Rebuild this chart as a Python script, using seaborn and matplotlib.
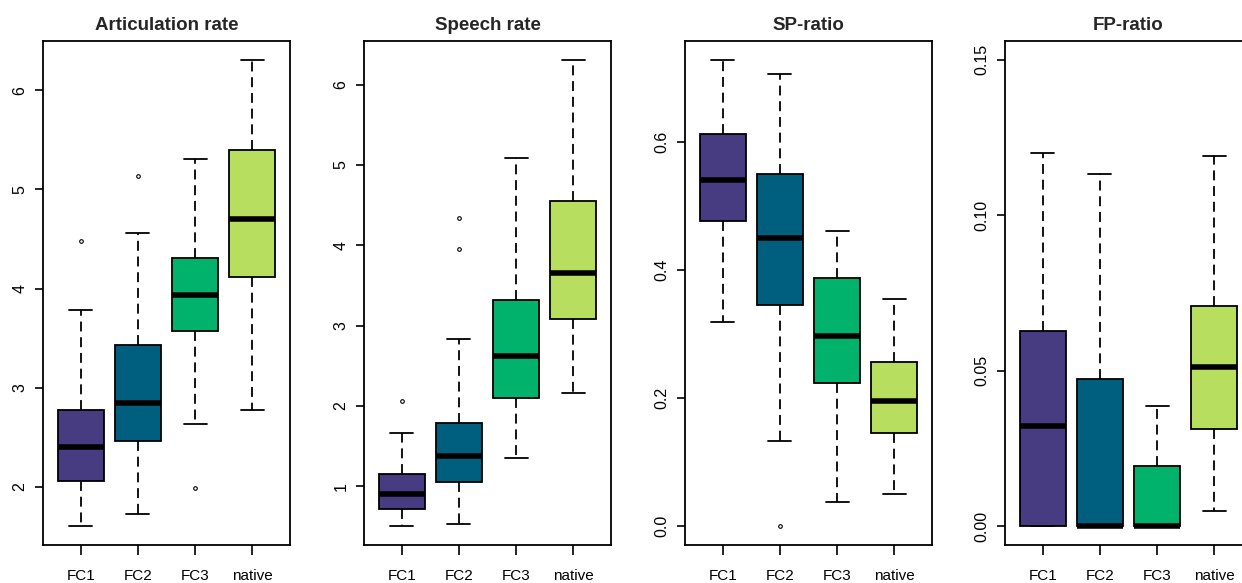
import pandas as pd
import matplotlib
matplotlib.use('Agg')
import matplotlib.pyplot as plt
import seaborn as sns

# -------------------------------
# data
# -------------------------------
groups = ['FC1', 'FC2', 'FC3', 'native']
colors = ['#473B82', '#005F7F', '#00B26C', '#B8DE5F']

# articulation rate: whisker low, Q1, median, Q3, whisker high
art_low = [1.60, 1.72, 2.63, 2.77]
art_q1 = [2.06, 2.46, 3.57, 4.12]
art_med = [2.40, 2.84, 3.93, 4.70]
art_q3 = [2.77, 3.43, 4.31, 5.40]
art_high = [3.78, 4.56, 5.31, 6.31]
art_out_group = ['FC1', 'FC2', 'FC3']
art_out_value = [4.48, 5.14, 1.99]

# speech rate
sr_low = [0.50, 0.53, 1.35, 2.16]
sr_q1 = [0.71, 1.05, 2.10, 3.08]
sr_med = [0.90, 1.37, 2.62, 3.66]
sr_q3 = [1.15, 1.79, 3.32, 4.55]
sr_high = [1.66, 2.83, 5.09, 6.31]
sr_out_group = ['FC1', 'FC2', 'FC2']
sr_out_value = [2.06, 4.34, 3.95]

# SP-ratio
sp_low = [0.319, 0.133, 0.038, 0.051]
sp_q1 = [0.476, 0.346, 0.223, 0.145]
sp_med = [0.541, 0.450, 0.297, 0.196]
sp_q3 = [0.612, 0.550, 0.387, 0.257]
sp_high = [0.728, 0.706, 0.461, 0.354]
sp_out_group = ['FC2']
sp_out_value = [0.0]

# FP-ratio
fp_low = [0.0, 0.0, 0.0, 0.0049]
fp_q1 = [0.0, 0.0, 0.0, 0.0313]
fp_med = [0.0323, 0.0, 0.0, 0.0512]
fp_q3 = [0.0628, 0.0473, 0.0195, 0.0707]
fp_high = [0.1200, 0.1132, 0.0388, 0.1189]
fp_out_group = []
fp_out_value = []

titles = ['Articulation rate', 'Speech rate', 'SP-ratio', 'FP-ratio']
yticks = [[2, 3, 4, 5, 6], [1, 2, 3, 4, 5, 6], [0.0, 0.2, 0.4, 0.6], [0.0, 0.05, 0.10, 0.15]]
ytick_labels = [['2', '3', '4', '5', '6'], ['1', '2', '3', '4', '5', '6'],
                ['0.0', '0.2', '0.4', '0.6'], ['0.00', '0.05', '0.10', '0.15']]
fixed_ylim = [None, None, None, (0.0, 0.15)]

panels = [
    (art_low, art_q1, art_med, art_q3, art_high, art_out_group, art_out_value),
    (sr_low, sr_q1, sr_med, sr_q3, sr_high, sr_out_group, sr_out_value),
    (sp_low, sp_q1, sp_med, sp_q3, sp_high, sp_out_group, sp_out_value),
    (fp_low, fp_q1, fp_med, fp_q3, fp_high, fp_out_group, fp_out_value),
]

# -------------------------------
# style
# -------------------------------
sns.set_style('white')
plt.rcParams['font.family'] = ['Liberation Sans', 'DejaVu Sans']

fig = plt.figure(figsize=(12.42, 5.83), dpi=100)
W, H = 1242, 583
lefts = [43, 364, 685, 1005]

for i, (low, q1, med, q3, high, og, ov) in enumerate(panels):
    ax = fig.add_axes([lefts[i] / W, 38 / H, 247 / W, 504 / H])

    # tidy table: the five summary values of every group
    rows = []
    for g, a, b, c, d, e in zip(groups, low, q1, med, q3, high):
        for v in (a, b, c, d, e):
            rows.append({'group': g, 'value': v})
    df = pd.DataFrame(rows)

    sns.boxplot(data=df, x='group', y='value', hue='group', order=groups,
                hue_order=groups, palette=colors, saturation=1, legend=False, ax=ax,
                whis=(0, 100), width=0.8, showfliers=False,
                linecolor='black', linewidth=1.3,
                whiskerprops=dict(linestyle=(0, (5.5, 3.2)), linewidth=1.3),
                capprops=dict(linewidth=1.3),
                medianprops=dict(linewidth=4, color='black'))

    if len(ov) > 0:
        out = pd.DataFrame({'group': og, 'value': ov})
        sns.stripplot(data=out, x='group', y='value', order=groups, jitter=False,
                      marker='o', size=2.6, color='white', edgecolor='black',
                      linewidth=0.8, ax=ax, zorder=5)

    # R-like axis limits (4% expansion)
    if fixed_ylim[i] is None:
        lo = min(low + ov)
        hi = max(high + ov)
    else:
        lo, hi = fixed_ylim[i]
    pad = 0.04 * (hi - lo)
    ax.set_ylim(lo - pad, hi + pad)
    ax.set_xlim(-0.66, 3.66)

    ax.set_yticks(yticks[i], ytick_labels[i], rotation=90, va='center')
    ax.set_xticks(range(len(groups)), groups)
    ax.tick_params(axis='y', left=True, length=6, width=1.2, pad=5,
                   labelsize=11.5, colors='black')
    ax.tick_params(axis='x', bottom=True, length=7, width=1.2, pad=10,
                   labelsize=11, colors='black')
    ax.set_xlabel('')
    ax.set_ylabel('')
    for s in ax.spines.values():
        s.set_visible(True)
        s.set_color('black')
        s.set_linewidth(1.3)
    ax.set_title(titles[i], fontsize=13.5, fontweight='bold', pad=8)

fig.savefig('out.png', dpi=100)
plt.close()
